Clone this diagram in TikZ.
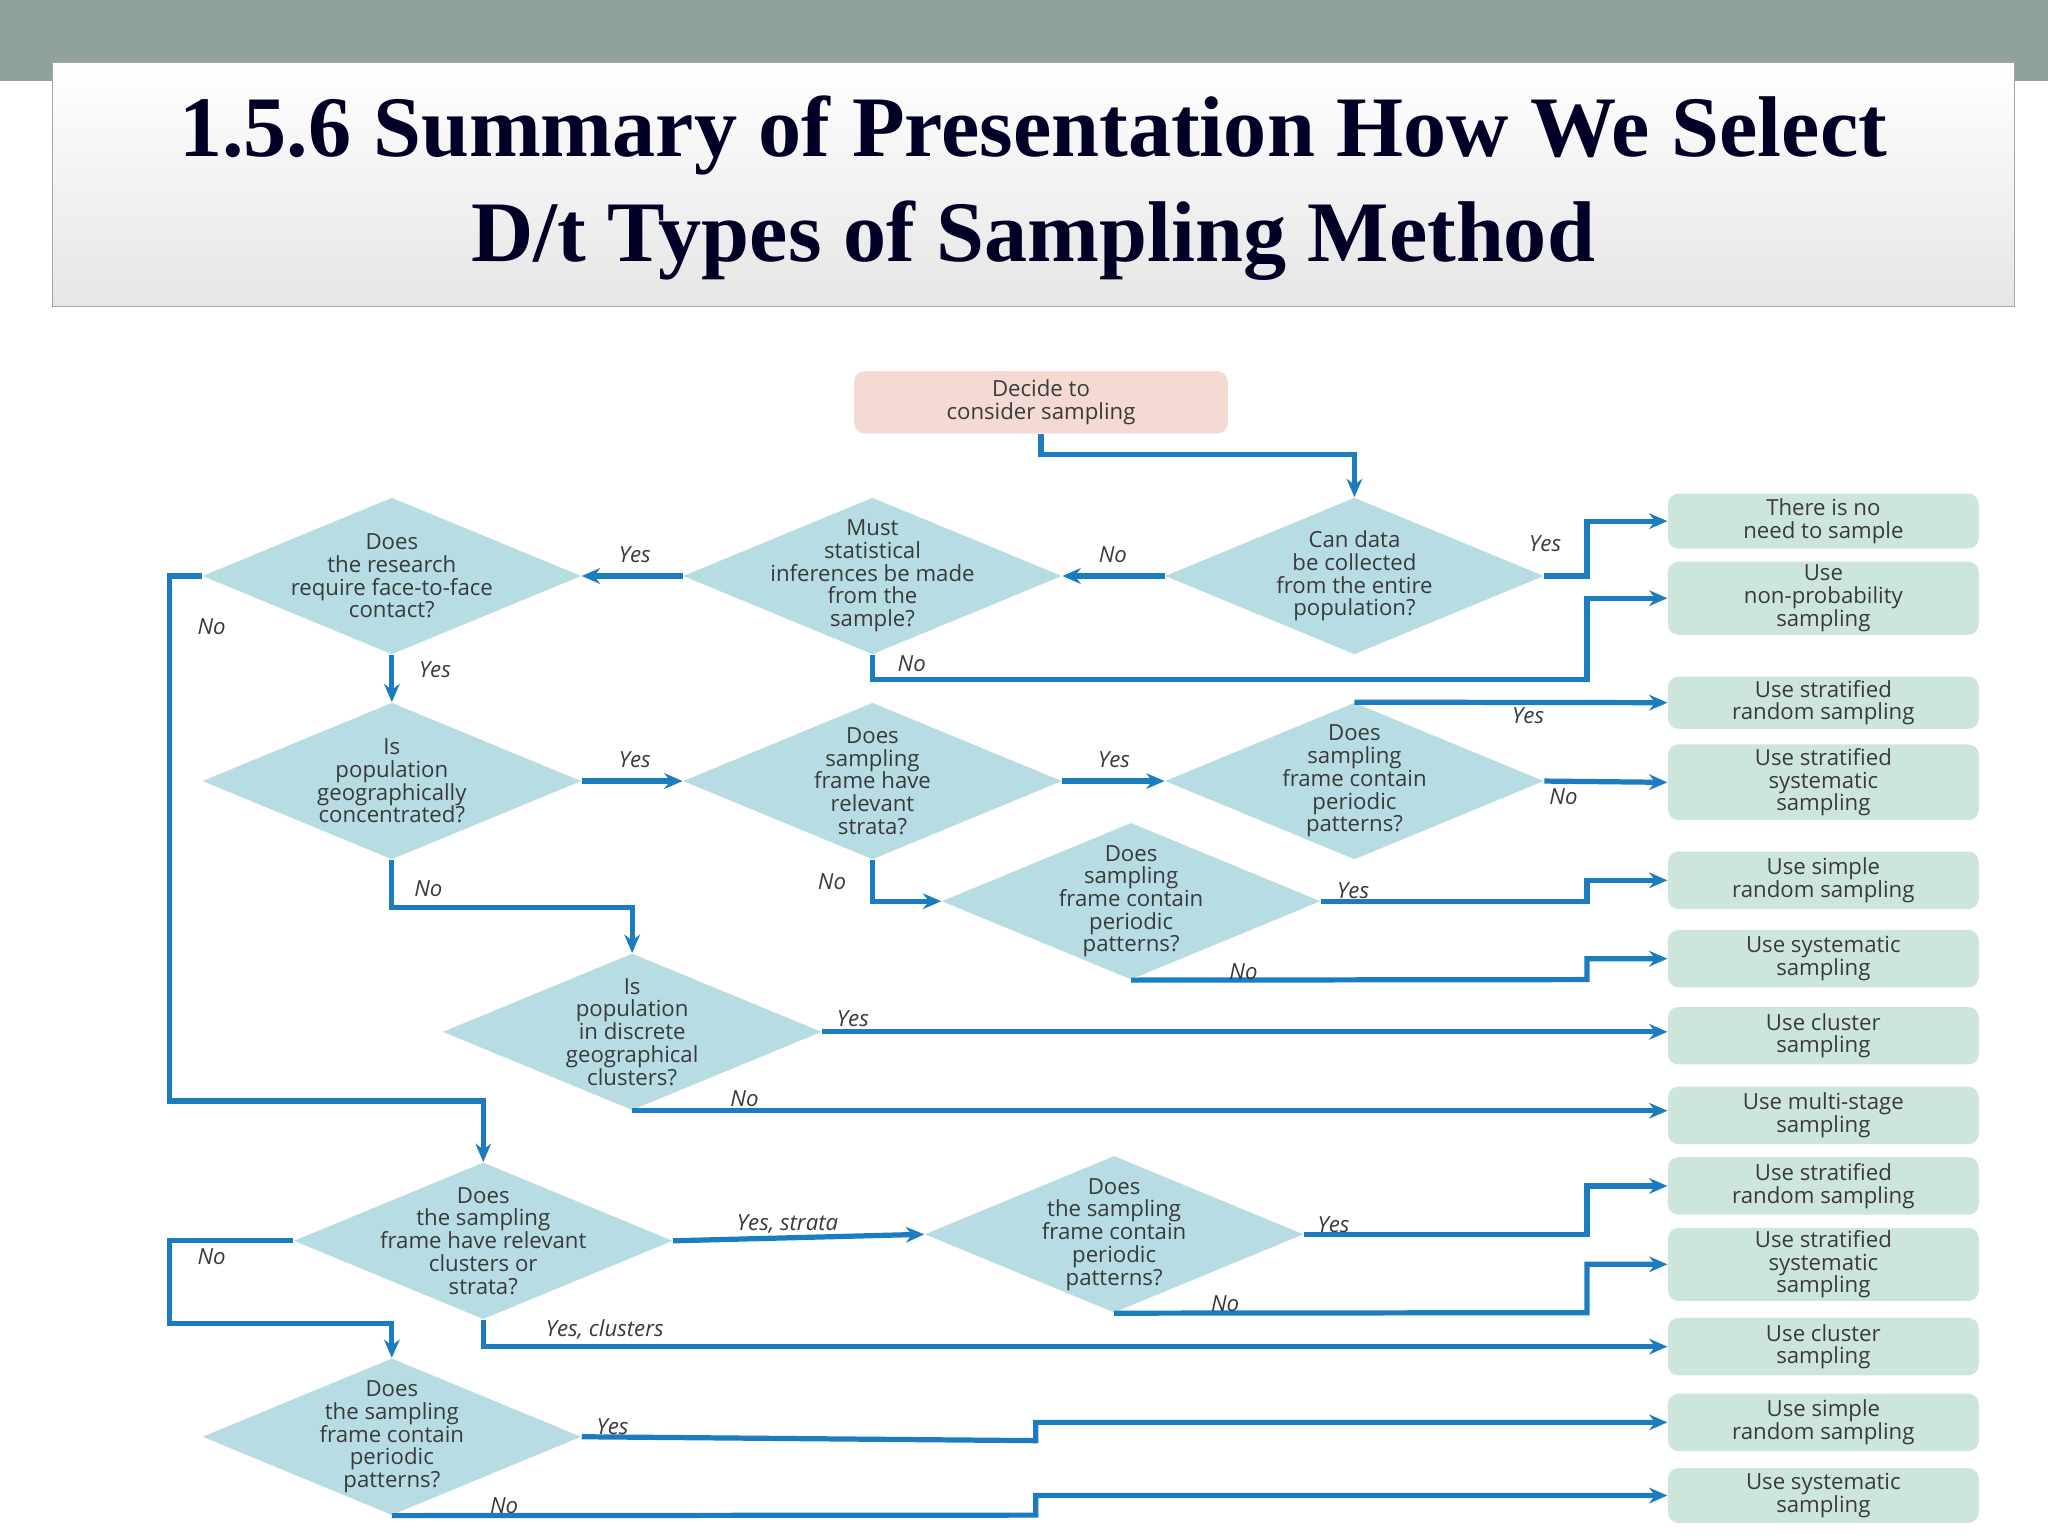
\documentclass[tikz,border=0pt]{standalone}
\usepackage{fontspec}
\setmainfont{Open Sans}
\newfontfamily\titlefont{Liberation Serif}
\usetikzlibrary{shapes.geometric,arrows.meta}
\definecolor{band}{HTML}{8FA39A}
\definecolor{diafill}{HTML}{B7DCE3}
\definecolor{resfill}{HTML}{CDE6DC}
\definecolor{startfill}{HTML}{F5DAD3}
\definecolor{arrc}{HTML}{1B7DC0}
\definecolor{txtc}{HTML}{3A3A3A}
\tikzset{
 dia/.style={diamond,fill=diafill,inner sep=0pt},
 dtxt/.style={align=center,font=\fontsize{8.5}{8.7}\selectfont,text=txtc},
 res/.style={rounded corners=4pt,fill=resfill,minimum width=119pt,inner sep=1pt,align=center,font=\fontsize{8.5}{8.7}\selectfont,text=txtc},
 arr/.style={draw=arrc,line width=2pt,-{Stealth[length=7pt,width=6pt]}},
 ln/.style={draw=arrc,line width=2pt},
 lab/.style={font=\itshape\fontsize{8.5}{9}\selectfont,text=txtc},
}
\begin{document}
\begin{tikzpicture}[x=0.5pt,y=-0.5pt]
\useasboundingbox (0,0) rectangle (1568,1176);
\fill[white] (0,0) rectangle (1568,1176);
\fill[band] (0,0) rectangle (1568,62);
\shade[top color=white,bottom color=gray!20,draw=gray!70] (40,48) rectangle (1542,235);
\node[font=\titlefont\bfseries\fontsize{33}{40}\selectfont,text=black!85!blue,align=center] (title) at (791,144) {1.5.6 Summary of Presentation How We Select\\D/t Types of Sampling Method};
% start
\node[rounded corners=4pt,fill=startfill,minimum width=143pt,minimum height=21pt,align=center,font=\fontsize{8.5}{8.7}\selectfont,text=txtc] (start) at (797,308) {Decide to\\consider sampling};
% diamonds
\newcommand\mydia[4]{\node[dia,minimum width=145pt,minimum height=60pt] (#1) at (#2,#3) {}; \node[dtxt] at (#1) {#4};}
\mydia{D1}{1037}{441}{Can data\\be collected\\from the entire\\population?}
\mydia{D2}{668}{441}{Must\\statistical\\inferences be made\\from the\\sample?}
\mydia{D3}{300}{441}{Does\\the research\\require face-to-face\\contact?}
\mydia{D4}{300}{598}{Is\\population\\geographically\\concentrated?}
\mydia{D5}{668}{598}{Does\\sampling\\frame have\\relevant\\strata?}
\mydia{D6}{1037}{598}{Does\\sampling\\frame contain\\periodic\\patterns?}
\mydia{D7}{866}{690}{Does\\sampling\\frame contain\\periodic\\patterns?}
\mydia{D8}{484}{790}{Is\\population\\in discrete\\geographical\\clusters?}
\mydia{D9}{370}{950}{Does\\the sampling\\frame have relevant\\clusters or\\strata?}
\mydia{D10}{853}{945}{Does\\the sampling\\frame contain\\periodic\\patterns?}
\mydia{D11}{300}{1100}{Does\\the sampling\\frame contain\\periodic\\patterns?}
% results
\node[res,minimum height=21pt] (R1) at (1396,399) {There is no\\need to sample};
\node[res,minimum height=28pt] (R2) at (1396,458) {Use\\non-probability\\sampling};
\node[res,minimum height=20pt] (R3) at (1396,538) {Use stratified\\random sampling};
\node[res,minimum height=29pt] (R4) at (1396,599) {Use stratified\\systematic\\sampling};
\node[res,minimum height=22pt] (R5) at (1396,674) {Use simple\\random sampling};
\node[res,minimum height=22pt] (R6) at (1396,734) {Use systematic\\sampling};
\node[res,minimum height=22pt] (R7) at (1396,793) {Use cluster\\sampling};
\node[res,minimum height=22pt] (R8) at (1396,854) {Use multi-stage\\sampling};
\node[res,minimum height=22pt] (R9) at (1396,908) {Use stratified\\random sampling};
\node[res,minimum height=28pt] (R10) at (1396,968) {Use stratified\\systematic\\sampling};
\node[res,minimum height=22pt] (R11) at (1396,1031) {Use cluster\\sampling};
\node[res,minimum height=22pt] (R12) at (1396,1089) {Use simple\\random sampling};
\node[res,minimum height=21pt] (R13) at (1396,1145) {Use systematic\\sampling};
% connectors
\draw[arr] (start.south) -- (797,348) -- (1037,348) -- (D1.north);
\draw[arr] (D1.east) -- (1215,441) -- (1215,399) -- (R1.west);
\node[lab] at (1183,416) {Yes};
\draw[arr] (D1.west) -- (D2.east); \node[lab] at (852,425) {No};
\draw[arr] (D2.west) -- (D3.east); \node[lab] at (486,425) {Yes};
\draw[arr] (D2.south) -- (668,520) -- (1215,520) -- (1215,458) -- (R2.west);
\node[lab] at (698,508) {No};
\draw[arr] (D3.west) -- (130,441) -- (130,843) -- (370,843) -- (D9.north);
\node[lab] at (162,480) {No};
\draw[arr] (D3.south) -- (D4.north); \node[lab] at (333,513) {Yes};
\draw[arr] (D4.east) -- (D5.west); \node[lab] at (486,582) {Yes};
\draw[arr] (D5.east) -- (D6.west); \node[lab] at (853,582) {Yes};
\draw[arr] (D6.north) -- (R3.west); \node[lab] at (1170,548) {Yes};
\draw[arr] (D6.east) -- (R4.west); \node[lab] at (1197,610) {No};
\draw[arr] (D5.south) -- (668,690) -- (D7.west); \node[lab] at (637,675) {No};
\draw[arr] (D7.east) -- (1215,690) -- (1215,674) -- (R5.west); \node[lab] at (1036,682) {Yes};
\draw[arr] (D7.south) -- (1215,750) -- (1215,734) -- (R6.west); \node[lab] at (952,744) {No};
\draw[arr] (D4.south) -- (300,695) -- (484,695) -- (D8.north); \node[lab] at (328,680) {No};
\draw[arr] (D8.east) -- (D8.east -| R7.west); \node[lab] at (653,780) {Yes};
\draw[arr] (D8.south) -- (D8.south -| R8.west); \node[lab] at (570,841) {No};
\draw[arr] (D9.west) -- (130,950) -- (130,1013) -- (300,1013) -- (D11.north); \node[lab] at (162,962) {No};
\draw[arr] (D9.east) -- (D10.west); \node[lab] at (603,937) {Yes, strata};
\draw[arr] (D9.south) -- (370,1031) -- (R11.west); \node[lab] at (463,1018) {Yes, clusters};
\draw[arr] (D10.east) -- (1215,945) -- (1215,908) -- (R9.west); \node[lab] at (1021,938) {Yes};
\draw[arr] (D10.south) -- (1215,1005) -- (1215,968) -- (R10.west); \node[lab] at (938,998) {No};
\draw[arr] (D11.east) -- (793,1103) -- (793,1089) -- (R12.west); \node[lab] at (469,1092) {Yes};
\draw[arr] (D11.south) -- (793,1160) -- (793,1145) -- (R13.west); \node[lab] at (386,1153) {No};
\end{tikzpicture}
\end{document}
